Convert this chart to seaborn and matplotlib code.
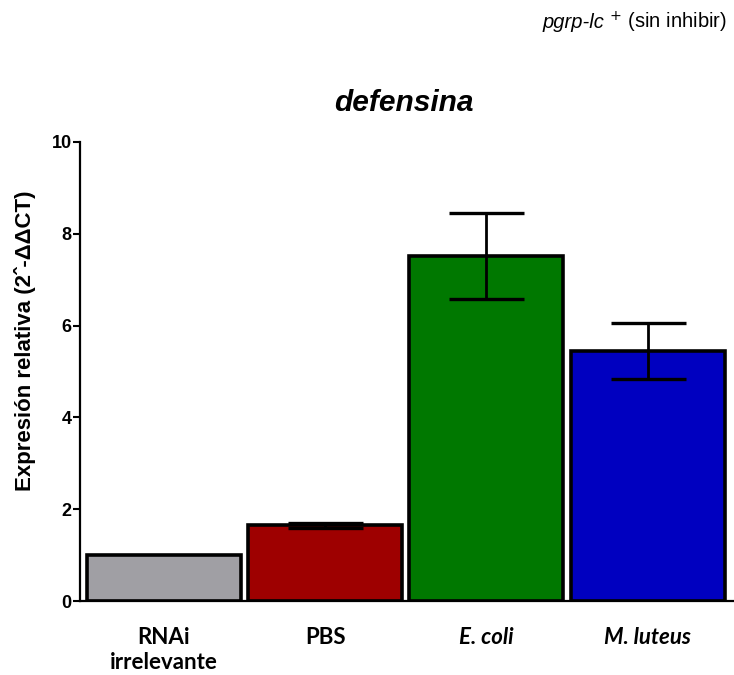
import matplotlib
matplotlib.use("Agg")
import matplotlib.pyplot as plt
import seaborn as sns
import numpy as np

# datos
grupos = ["RNAi\nirrelevante", "PBS", "E. coli", "M. luteus"]
expresion = [1.0, 1.65, 7.52, 5.45]
error = [0.0, 0.06, 0.94, 0.61]
colores = ["#a09fa4", "#9e0000", "#007800", "#0000c0"]

sns.set_style("ticks")
plt.rcParams['font.family'] = ['Liberation Sans', 'DejaVu Sans']
plt.rcParams['text.color'] = 'black'
plt.rcParams['axes.labelcolor'] = 'black'
plt.rcParams['xtick.color'] = 'black'
plt.rcParams['ytick.color'] = 'black'

fig = plt.figure(figsize=(7.34, 6.75), dpi=100)
ax = fig.add_axes([80 / 734, 1 - 601 / 675, 653 / 734, (601 - 142) / 675])

sns.barplot(x=grupos, y=expresion, hue=grupos, palette=colores, legend=False,
            width=0.955, edgecolor="black", linewidth=2.6, saturation=1, ax=ax)

# barras de error (solo si hay error)
x = np.arange(len(grupos))
err = np.array(error)
m = err > 0
ax.errorbar(x[m], np.array(expresion)[m], yerr=err[m], fmt="none",
            ecolor="black", elinewidth=2, capsize=27, capthick=2.4, zorder=5)

ax.set_xlim(-0.52, 3.53)
ax.set_ylim(0, 10)
ax.set_yticks([0, 2, 4, 6, 8, 10])
ax.set_yticklabels(["0", "2", "4", "6", "8", "10"], fontweight="bold", fontsize=13)
ax.tick_params(axis="y", length=5, width=1.5, direction="out", pad=1)
ax.tick_params(axis="x", length=0, pad=19)

for lab in ax.get_xticklabels():
    lab.set_fontsize(16)
    lab.set_fontweight("bold")
    lab.set_family(["Lato", "DejaVu Sans"])
    lab.set_linespacing(1.2)
    if lab.get_text() in ("E. coli", "M. luteus"):
        lab.set_style("italic")

for s in ["top", "right"]:
    ax.spines[s].set_visible(False)
for s in ["left", "bottom"]:
    ax.spines[s].set_linewidth(1.6)
    ax.spines[s].set_color("black")

ax.set_ylabel("Expresión relativa (2ˆ-ΔΔCT)", fontsize=16, fontweight="bold")
ax.yaxis.set_label_coords(-0.068, 0.566)
ax.set_xlabel("")

fig.text(404 / 734, 1 - 103 / 675, "defensina", fontsize=21.5, fontweight="bold",
         fontstyle="italic", ha="center", va="center")

# texto arriba a la derecha: parte en cursiva + resto
t2 = fig.text(727 / 734, 1 - 22 / 675, r" $^{+}$ (sin inhibir)",
              fontsize=14.5, ha="right", va="center")
fig.canvas.draw()
bb = t2.get_window_extent()
fig.text(bb.x0 / fig.bbox.width, 1 - 22 / 675, "pgrp-lc", fontsize=14.5,
         fontstyle="italic", ha="right", va="center")

plt.savefig("out.png", dpi=100)
plt.close()
